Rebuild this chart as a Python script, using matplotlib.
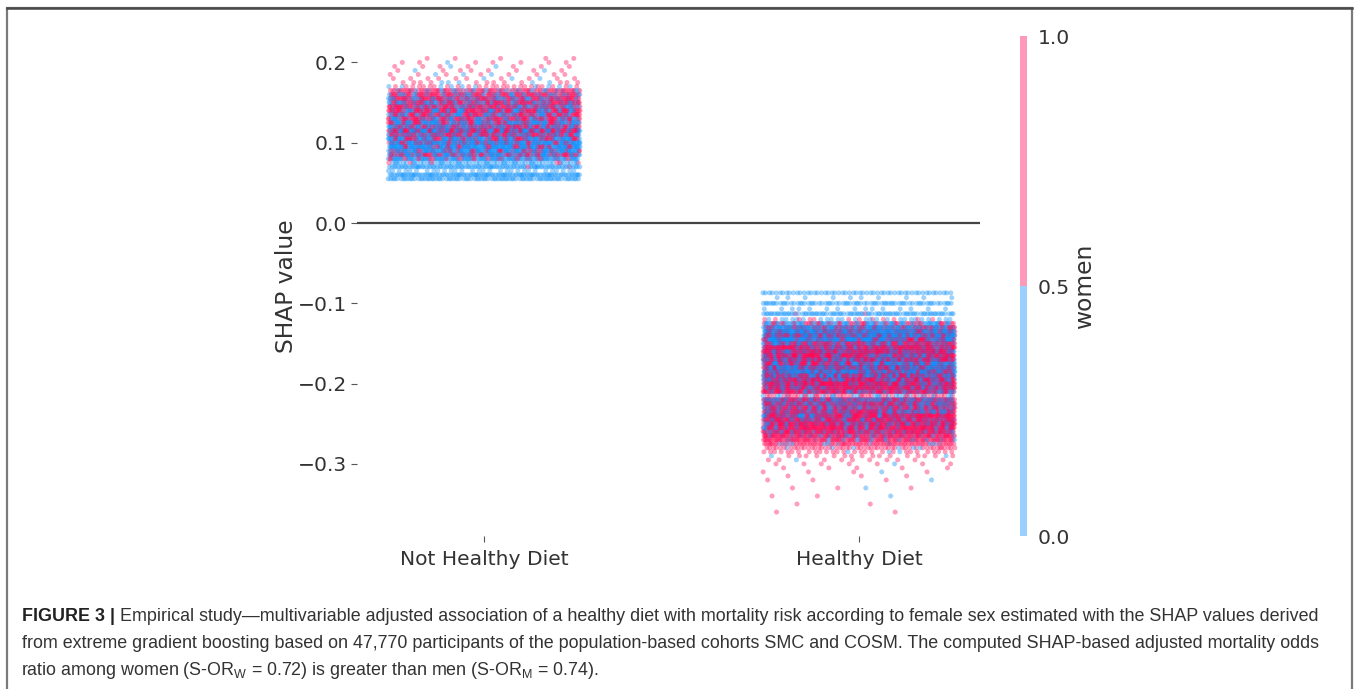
import numpy as np
import matplotlib
matplotlib.use('Agg')
import matplotlib.pyplot as plt
from matplotlib.colors import ListedColormap, Normalize
from matplotlib.colorbar import ColorbarBase
from matplotlib.patches import Rectangle

plt.rcParams['mathtext.fontset'] = 'custom'
plt.rcParams['mathtext.rm'] = 'Liberation Sans'

categories = ['Not Healthy Diet', 'Healthy Diet']

# SHAP value levels and number of points per level (men = blue, women = red)
not_healthy_shap = [0.055, 0.060, 0.065, 0.070, 0.075, 0.080, 0.085, 0.090, 0.095, 0.100,
                    0.105, 0.110, 0.115, 0.120, 0.125, 0.130, 0.135, 0.140, 0.145, 0.150,
                    0.155, 0.160, 0.165, 0.170, 0.175, 0.180, 0.185, 0.190, 0.195, 0.200, 0.205]
not_healthy_men = [80, 100, 30, 90, 60, 100, 90, 120, 130, 130,
                   110, 70, 90, 90, 100, 70, 70, 70, 60, 60,
                   55, 45, 30, 10, 5, 3, 3, 2, 2, 1, 0]
not_healthy_women = [0, 0, 0, 2, 6, 30, 75, 45, 45, 50,
                     65, 115, 120, 90, 75, 95, 95, 105, 110, 110,
                     105, 95, 75, 25, 12, 10, 8, 8, 7, 7, 5]

healthy_shap = [-0.087, -0.093, -0.100, -0.107, -0.113, -0.120, -0.125, -0.130, -0.135, -0.140,
                -0.145, -0.150, -0.155, -0.160, -0.165, -0.170, -0.175, -0.180, -0.185, -0.190,
                -0.195, -0.200, -0.205, -0.210, -0.215, -0.220, -0.225, -0.230, -0.235, -0.240,
                -0.245, -0.250, -0.255, -0.260, -0.265, -0.270, -0.275, -0.280, -0.285, -0.290,
                -0.295, -0.300, -0.305, -0.310, -0.315, -0.320, -0.330, -0.340, -0.350, -0.360]
healthy_men = [55, 10, 70, 15, 80, 25, 70, 120, 160, 160,
               150, 90, 70, 90, 70, 90, 120, 150, 160, 130,
               90, 70, 70, 60, 25, 90, 90, 75, 90, 75,
               60, 60, 45, 45, 30, 20, 12, 6, 3, 2,
               1, 1, 0, 1, 0, 1, 1, 1, 0, 0]
healthy_women = [0, 0, 0, 0, 2, 12, 45, 60, 60, 75,
                 75, 120, 160, 160, 175, 160, 105, 105, 90, 120,
                 160, 175, 160, 150, 40, 120, 130, 130, 130, 150,
                 160, 160, 160, 150, 130, 110, 80, 50, 28, 16,
                 10, 7, 5, 4, 3, 3, 3, 2, 2, 2]

yticks = [-0.3, -0.2, -0.1, 0.0, 0.1, 0.2]
cbar_ticks = [0.0, 0.5, 1.0]

blue = '#008bfc'
red = '#ff0051'
blue_light = '#99d0fe'
red_light = '#ff99b9'

PHI = 0.6180339887


def strip_points(center, levels, men, women, half_width=0.256):
    xs, ys, cs = [], [], []
    for i, (lv, nm, nw) in enumerate(zip(levels, men, women)):
        n = nm + nw
        if n == 0:
            continue
        k = np.arange(n)
        frac = ((k + i * 7.3) * PHI) % 1.0
        xs.append(center + (frac - 0.5) * 2 * half_width)
        ys.append(np.full(n, lv))
        col = np.array([blue] * nm + [red] * nw)
        # interleave colours along the row
        order = np.argsort(((np.arange(n) + 3 * i) * 0.7548776662) % 1.0)
        cs.append(col[order])
    return np.concatenate(xs), np.concatenate(ys), np.concatenate(cs)


x0, y0, c0 = strip_points(0, not_healthy_shap, not_healthy_men, not_healthy_women)
x1, y1, c1 = strip_points(1, healthy_shap, healthy_men, healthy_women)
xs = np.concatenate([x0, x1])
ys = np.concatenate([y0, y1])
cs = np.concatenate([c0, c1])
draw_order = np.argsort((np.arange(len(xs)) * 0.7548776662) % 1.0)

W, H = 1357, 689
fig = plt.figure(figsize=(W / 100, H / 100), dpi=100)

# outer frame
fig.patches.append(Rectangle((7 / W, -0.05), (1352 - 7) / W, 1.05 - 8 / H,
                             transform=fig.transFigure, fill=False,
                             edgecolor='#7a7a7a', lw=1.6))
fig.lines.append(plt.Line2D([7 / W, 1352 / W], [1 - 8 / H, 1 - 8 / H],
                            transform=fig.transFigure, color='#4a4a4a', lw=1.8))

ax = fig.add_axes([357 / W, 1 - 536 / H, (980 - 357) / W, 500 / H])
ax.scatter(xs[draw_order], ys[draw_order], c=cs[draw_order], s=13, alpha=0.38,
           linewidths=0, rasterized=True)
ax.axhline(0, color='#444444', lw=1.6, zorder=3)
ax.set_xlim(-0.339, 1.323)
ax.set_ylim(-0.3898, 0.2329)
for sp in ax.spines.values():
    sp.set_visible(False)
ax.set_xticks([0, 1])
ax.set_xticklabels(categories, fontsize=14.6, color='#333333')
ax.set_yticks(yticks)
ax.set_yticklabels(['\u22120.3', '\u22120.2', '\u22120.1', '0.0', '0.1', '0.2'],
                   fontsize=14.6, color='#333333')
ax.tick_params(axis='y', length=4, width=0.8, color='#555555', pad=3)
ax.tick_params(axis='x', length=4, width=0.8, color='#555555', pad=6)
ax.set_ylabel('SHAP value', fontsize=16.8, color='#333333')
ax.yaxis.set_label_coords((298 - 357) / 623, 0.5)

# colorbar
cax = fig.add_axes([1020 / W, 1 - 536 / H, 7 / W, 500 / H])
cb = ColorbarBase(cax, cmap=ListedColormap([blue_light, red_light]),
                  norm=Normalize(0, 1), ticks=cbar_ticks)
cb.outline.set_visible(False)
cb.ax.set_yticklabels(['0.0', '0.5', '1.0'], fontsize=14.6, color='#333333')
cb.ax.tick_params(length=0, pad=8)
cb.set_label('women', fontsize=16.8, color='#333333')
cb.ax.yaxis.set_label_coords((1073 - 1020) / 7, 0.5)

# caption
cap_font = 'Liberation Sans'
bold_txt = 'FIGURE 3 |'
line1 = (' Empirical study\u2014multivariable adjusted association of a healthy diet with mortality '
         'risk according to female sex estimated with the SHAP values derived')
line2 = ('from extreme gradient boosting based on 47,770 participants of the population-based '
         'cohorts SMC and COSM. The computed SHAP-based adjusted mortality odds')
line3 = (r'ratio among women (S-OR$_\mathrm{W}$ = 0.72) is greater than men '
         r'(S-OR$_\mathrm{M}$ = 0.74).')

x_left = 22
target = 1327 - x_left
base_y = [621, 648, 675]

fs = 14.0
renderer = fig.canvas.get_renderer()
tb = fig.text(x_left / W, 1 - base_y[0] / H, bold_txt, fontsize=fs, family=cap_font,
              weight='bold', color='#222222', va='baseline')
t1 = fig.text(0, 1 - base_y[0] / H, line1, fontsize=fs, family=cap_font,
              color='#333333', va='baseline')
wb = tb.get_window_extent(renderer).width
w1 = t1.get_window_extent(renderer).width
fs = fs * target / (wb + w1)
tb.set_fontsize(fs)
t1.set_fontsize(fs)
wb = tb.get_window_extent(renderer).width
t1.set_x((x_left + wb) / W)
fig.text(x_left / W, 1 - base_y[1] / H, line2, fontsize=fs, family=cap_font,
         color='#333333', va='baseline')
fig.text((x_left - 1) / W, 1 - base_y[2] / H, line3, fontsize=fs, family=cap_font,
         color='#333333', va='baseline')

fig.savefig('out.png', dpi=100)
